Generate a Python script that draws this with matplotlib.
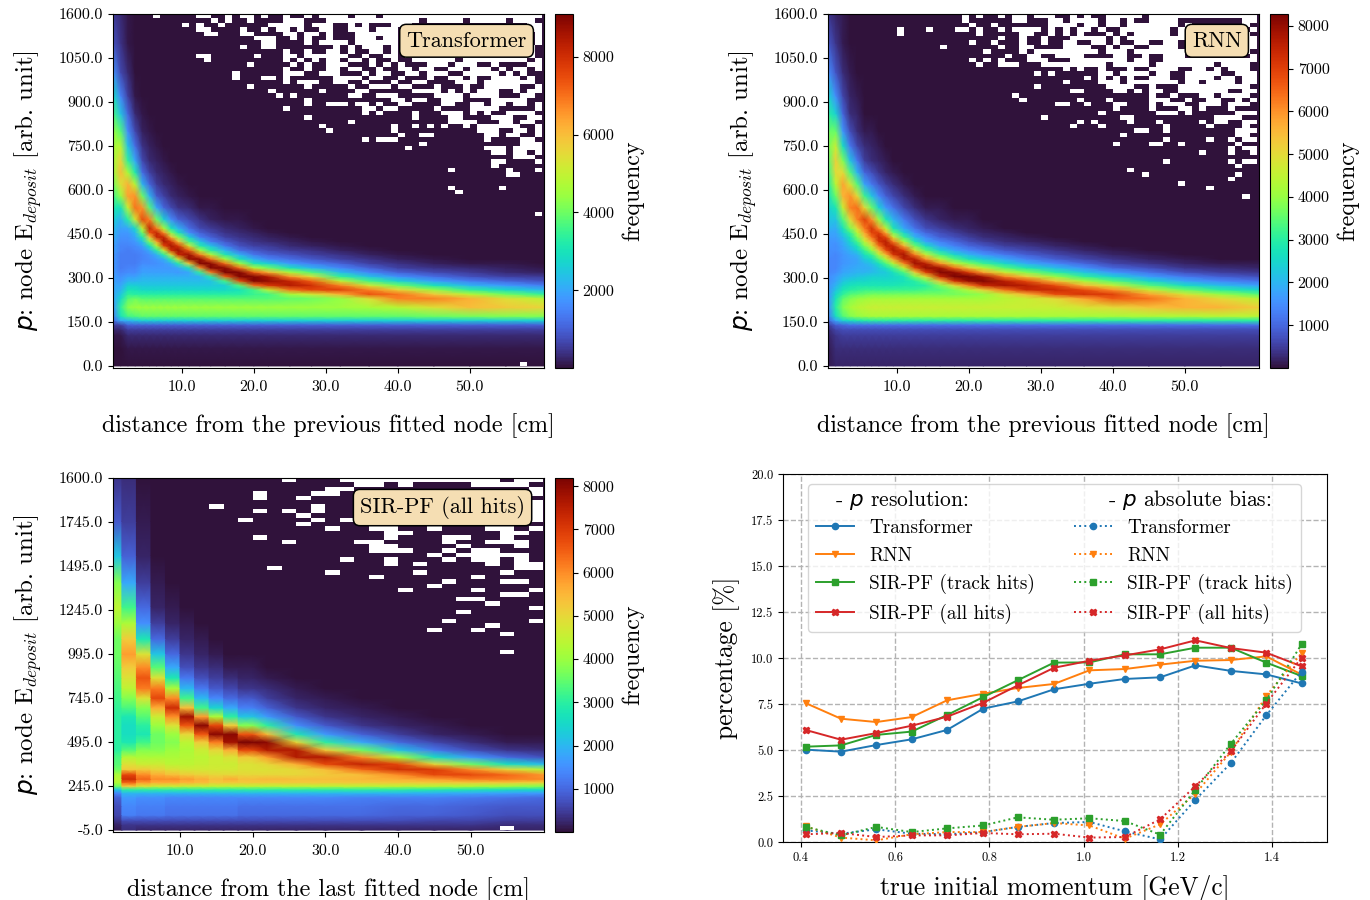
import numpy as np
import matplotlib
matplotlib.use("Agg")
import matplotlib.pyplot as plt
from matplotlib.lines import Line2D
from matplotlib.colors import Normalize, ListedColormap
from matplotlib.cm import ScalarMappable

plt.rcParams['font.family'] = ['cmr10', 'DejaVu Sans']
plt.rcParams['mathtext.fontset'] = 'custom'
plt.rcParams['mathtext.rm'] = 'cmr10'
plt.rcParams['mathtext.it'] = 'cmmi10'
plt.rcParams['mathtext.sf'] = 'DejaVu Sans:italic'
plt.rcParams['axes.unicode_minus'] = False

# ---- histogram values, in hundreds of counts. each list is one x column, bottom to top.
# short columns are dark (zero) above their last value
edep_y = [0, 60, 105, 125, 140, 155, 170, 200, 230, 245, 260, 275, 290, 305, 320, 335, 350, 365, 380, 395, 410, 425,
          440, 455, 470, 500, 540, 580, 620, 660, 700, 750, 800, 860, 920, 1000, 1100, 1200]
edep_x = [0.5, 1.5, 2.5, 3.5, 4.5, 5.5, 6.5, 7.5, 8.5, 9.5, 11, 12.5, 14, 16, 18, 20, 22, 25, 28, 32, 36, 40, 45, 50, 55, 60.5]

transformer_hist = [
    [0, 0, 1, 3, 6, 12, 15, 18, 20, 20, 20, 20, 19, 19, 18, 18, 18, 18, 18, 19, 19, 20, 21, 22, 23, 26, 31, 36, 41, 45, 46, 46, 44, 36, 28, 17, 8, 5],
    [0, 0, 1, 3, 6, 20, 30, 34, 28, 25, 22, 20, 18, 17, 15, 14, 14, 14, 14, 15, 15, 16, 17, 18, 19, 22, 30, 44, 54, 60, 56, 48, 38, 24, 15, 7, 4, 3],
    [0, 1, 3, 6, 10, 22, 36, 43, 38, 34, 30, 26, 22, 19, 16, 15, 14, 14, 14, 14, 15, 16, 17, 18, 20, 33, 50, 64, 62, 46, 34, 24, 16, 11, 6, 3, 1, 1],
    [0, 1, 3, 6, 10, 24, 37, 45, 40, 33, 30, 26, 22, 19, 16, 15, 14, 14, 14, 15, 16, 18, 20, 23, 28, 52, 70, 66, 48, 32, 20, 12, 7, 3, 1],
    [0, 1, 3, 6, 10, 26, 39, 45, 38, 33, 28, 25, 23, 21, 19, 18, 16, 15, 15, 16, 19, 24, 32, 40, 50, 75, 66, 40, 22, 12, 7, 4, 2, 1],
    [0, 1, 3, 6, 10, 26, 39, 45, 38, 33, 28, 25, 23, 21, 19, 18, 16, 16, 17, 21, 30, 42, 58, 74, 82, 68, 38, 22, 11, 6, 3, 2, 1],
    [0, 1, 3, 6, 10, 26, 39, 45, 38, 33, 28, 25, 23, 21, 19, 18, 17, 18, 22, 34, 48, 64, 82, 82, 68, 40, 20, 9, 5, 3, 2, 1],
    [0, 1, 3, 6, 10, 26, 39, 45, 38, 33, 28, 25, 23, 21, 19, 18, 18, 21, 34, 52, 76, 86, 82, 66, 46, 26, 11, 6, 3, 2, 1],
    [0, 1, 3, 6, 10, 26, 39, 45, 38, 33, 28, 25, 23, 21, 19, 18, 21, 34, 54, 80, 86, 78, 60, 42, 30, 16, 7, 3, 2, 1],
    [0, 1, 3, 6, 10, 26, 39, 45, 38, 33, 28, 25, 23, 21, 18, 20, 32, 54, 82, 87, 78, 60, 42, 30, 22, 10, 4, 2, 1],
    [0, 1, 3, 6, 10, 26, 39, 45, 38, 33, 28, 25, 23, 21, 20, 30, 58, 88, 87, 72, 52, 36, 26, 16, 12, 7, 3, 1],
    [0, 1, 3, 6, 10, 26, 39, 45, 38, 33, 28, 25, 23, 22, 34, 66, 90, 88, 68, 46, 32, 24, 14, 10, 7, 4, 1],
    [0, 1, 3, 6, 10, 26, 39, 45, 38, 33, 28, 25, 24, 33, 68, 90, 89, 70, 48, 33, 24, 14, 10, 7, 5, 2, 1],
    [0, 1, 3, 6, 10, 26, 39, 45, 38, 33, 28, 26, 36, 72, 91, 89, 70, 46, 31, 22, 13, 9, 6, 4, 3, 1],
    [0, 1, 3, 6, 10, 26, 39, 45, 38, 33, 30, 38, 74, 90, 90, 70, 46, 30, 21, 12, 8, 6, 4, 3, 2, 1],
    [0, 1, 3, 6, 10, 26, 39, 45, 38, 35, 36, 70, 90, 90, 72, 48, 31, 21, 13, 9, 6, 4, 3, 2, 1],
    [0, 1, 3, 6, 10, 26, 39, 45, 38, 36, 50, 78, 88, 84, 62, 40, 26, 15, 10, 7, 5, 3, 2, 1],
    [0, 1, 3, 6, 10, 26, 39, 45, 39, 46, 70, 84, 82, 66, 46, 30, 18, 12, 8, 5, 3, 2, 1],
    [0, 1, 3, 6, 10, 26, 39, 45, 40, 52, 76, 80, 72, 54, 37, 22, 14, 9, 6, 4, 2, 1],
    [0, 1, 3, 6, 10, 26, 39, 45, 44, 62, 77, 68, 50, 34, 23, 15, 10, 6, 4, 2, 1],
    [0, 1, 3, 6, 10, 26, 39, 46, 54, 74, 68, 52, 36, 24, 15, 10, 6, 4, 2, 1],
    [0, 1, 3, 6, 10, 26, 39, 48, 68, 70, 56, 40, 27, 17, 10, 6, 4, 2, 1],
    [0, 1, 3, 6, 10, 26, 40, 54, 68, 58, 44, 30, 19, 12, 7, 4, 2, 1],
    [0, 1, 3, 6, 10, 26, 41, 60, 62, 48, 34, 22, 14, 8, 5, 3, 1],
    [0, 1, 3, 6, 10, 26, 42, 58, 54, 40, 28, 18, 11, 6, 3, 2, 1],
    [0, 1, 3, 6, 10, 26, 42, 56, 48, 34, 22, 14, 8, 5, 2, 1],
]

rnn_hist = [
    [1, 1, 2, 3, 5, 10, 13, 15, 16, 16, 16, 16, 15, 15, 14, 14, 14, 14, 15, 15, 16, 16, 17, 18, 20, 22, 24, 27, 30, 33, 35, 37, 36, 30, 24, 15, 8, 4],
    [2, 3, 4, 6, 9, 18, 26, 30, 27, 25, 22, 20, 18, 17, 15, 14, 14, 14, 14, 15, 15, 16, 17, 18, 19, 22, 28, 36, 44, 50, 52, 46, 36, 24, 15, 8, 4, 2],
    [2, 3, 5, 7, 10, 24, 34, 38, 35, 31, 28, 25, 22, 20, 18, 17, 16, 16, 16, 17, 18, 19, 21, 24, 27, 34, 46, 56, 58, 50, 38, 26, 16, 10, 6, 3, 1, 1],
    [2, 3, 5, 7, 11, 26, 38, 42, 38, 34, 30, 27, 24, 21, 19, 18, 17, 17, 18, 20, 22, 25, 28, 32, 38, 50, 62, 60, 48, 34, 22, 12, 7, 3, 2, 1],
    [2, 3, 5, 7, 11, 28, 40, 44, 40, 35, 31, 28, 25, 22, 20, 19, 18, 18, 20, 24, 28, 33, 38, 44, 50, 62, 64, 50, 34, 20, 12, 6, 3, 2, 1],
    [2, 3, 5, 7, 11, 29, 41, 45, 41, 36, 32, 28, 25, 23, 20, 19, 20, 23, 27, 32, 38, 45, 52, 58, 63, 70, 50, 32, 18, 10, 5, 3, 1],
    [2, 3, 5, 7, 11, 30, 42, 46, 42, 37, 32, 28, 26, 24, 21, 20, 22, 26, 32, 40, 48, 56, 64, 70, 72, 60, 36, 22, 12, 7, 3, 2, 1],
    [2, 3, 5, 7, 11, 30, 42, 46, 42, 37, 32, 28, 26, 24, 22, 23, 27, 34, 44, 54, 64, 72, 74, 70, 60, 40, 24, 14, 8, 4, 2, 1],
    [2, 3, 5, 7, 11, 30, 42, 46, 42, 37, 32, 28, 26, 24, 23, 27, 34, 44, 56, 68, 75, 76, 68, 56, 44, 28, 16, 9, 5, 2, 1],
    [2, 3, 5, 7, 11, 30, 42, 46, 42, 37, 32, 28, 26, 25, 27, 33, 44, 58, 72, 77, 74, 62, 48, 36, 28, 20, 11, 6, 3, 1],
    [2, 3, 5, 7, 11, 30, 42, 46, 42, 37, 32, 29, 27, 28, 34, 46, 62, 76, 78, 70, 56, 42, 32, 24, 18, 12, 6, 3, 1],
    [2, 3, 5, 7, 11, 30, 42, 46, 42, 37, 32, 29, 30, 38, 52, 70, 79, 76, 62, 48, 36, 28, 20, 15, 11, 7, 3, 1],
    [2, 3, 5, 7, 11, 30, 42, 46, 42, 37, 33, 30, 36, 50, 70, 80, 76, 60, 46, 34, 26, 18, 14, 10, 7, 4, 1],
    [2, 3, 5, 7, 11, 30, 42, 46, 42, 37, 34, 38, 54, 74, 82, 78, 60, 44, 33, 24, 17, 13, 9, 7, 5, 2, 1],
    [2, 3, 5, 7, 11, 30, 42, 46, 42, 37, 38, 50, 72, 83, 80, 64, 46, 34, 25, 18, 13, 10, 7, 5, 3, 1],
    [2, 3, 5, 7, 11, 30, 42, 46, 42, 38, 44, 62, 80, 83, 70, 52, 38, 27, 20, 14, 10, 7, 5, 3, 2, 1],
    [2, 3, 5, 7, 11, 30, 42, 46, 42, 40, 52, 74, 82, 78, 58, 44, 32, 23, 16, 11, 8, 5, 3, 2, 1],
    [2, 3, 5, 7, 11, 30, 42, 46, 44, 48, 64, 78, 76, 62, 46, 34, 25, 18, 12, 8, 5, 3, 2, 1],
    [2, 3, 5, 7, 11, 30, 42, 46, 46, 56, 74, 76, 68, 52, 38, 28, 19, 13, 9, 6, 4, 2, 1],
    [2, 3, 5, 7, 11, 30, 42, 46, 50, 68, 74, 68, 54, 40, 30, 21, 14, 9, 6, 4, 2, 1],
    [2, 3, 5, 7, 11, 30, 42, 48, 58, 72, 68, 55, 42, 31, 22, 15, 10, 6, 4, 2, 1],
    [2, 3, 5, 7, 11, 30, 42, 50, 66, 70, 60, 46, 34, 24, 16, 10, 6, 4, 2, 1],
    [2, 3, 5, 7, 11, 30, 43, 54, 64, 58, 46, 34, 25, 17, 11, 7, 4, 2, 1],
    [2, 3, 5, 7, 11, 30, 43, 56, 56, 48, 36, 26, 18, 12, 7, 4, 2, 1],
    [2, 3, 5, 7, 11, 30, 44, 56, 50, 40, 30, 21, 14, 9, 5, 3, 1],
    [2, 3, 5, 7, 11, 30, 44, 52, 44, 34, 25, 17, 11, 7, 4, 2, 1],
]

sir_y = [-5, 25, 50, 80, 130, 180, 205, 225, 245, 265, 285, 310, 340, 370, 410, 450, 495, 540, 590, 640,
         690, 745, 800, 860, 920, 995, 1080, 1170, 1260, 1400, 1550, 1745, 1995]
sir_x_left = [0.5, 2, 4, 6, 8, 10, 12, 14, 16, 18, 22, 26, 30, 35, 40, 45, 50, 55, 60.5]
sir_x_right = [2, 4, 6, 8, 10, 12, 14, 16, 18, 20, 22, 26, 30, 35, 40, 45, 50, 55, 60.5]

sir_hist = [
    [1, 2, 4, 6, 7, 9, 14, 22, 36, 42, 44, 42, 36, 34, 33, 30, 30, 30, 30, 30, 31, 32, 33, 34, 35, 36, 36, 40, 44, 38, 22, 8, 4],
    [3, 4, 7, 13, 14, 16, 20, 30, 52, 64, 72, 68, 52, 48, 43, 34, 28, 26, 26, 28, 33, 38, 44, 48, 52, 58, 52, 42, 32, 18, 9, 5, 3],
    [2, 4, 7, 12, 13, 15, 20, 30, 48, 58, 64, 60, 52, 46, 42, 38, 32, 28, 30, 34, 38, 48, 62, 66, 60, 48, 28, 15, 10, 5, 2, 1],
    [2, 4, 7, 12, 13, 15, 20, 30, 46, 56, 60, 56, 50, 46, 42, 38, 36, 36, 40, 46, 56, 68, 62, 48, 34, 22, 10, 5, 2, 1],
    [2, 4, 7, 11, 12, 14, 20, 30, 46, 56, 60, 54, 48, 44, 42, 40, 38, 40, 48, 60, 72, 60, 42, 28, 18, 10, 5, 2, 1],
    [2, 4, 7, 11, 12, 14, 20, 30, 45, 55, 58, 52, 47, 44, 43, 42, 44, 50, 66, 78, 54, 32, 20, 12, 7, 4, 2, 1],
    [2, 4, 7, 11, 12, 14, 20, 30, 45, 54, 56, 51, 47, 45, 44, 46, 52, 66, 80, 58, 32, 20, 12, 7, 4, 2, 1],
    [2, 4, 7, 11, 12, 14, 20, 30, 44, 52, 54, 50, 47, 46, 46, 50, 62, 80, 68, 42, 24, 14, 8, 5, 3, 1],
    [2, 4, 7, 11, 12, 14, 20, 30, 44, 52, 56, 50, 47, 46, 48, 56, 78, 80, 52, 30, 18, 10, 6, 3, 1],
    [2, 4, 7, 10, 11, 14, 20, 30, 44, 52, 54, 50, 48, 48, 52, 68, 82, 66, 38, 22, 13, 8, 4, 2, 1],
    [2, 4, 7, 10, 11, 14, 20, 30, 44, 52, 55, 50, 48, 50, 58, 76, 80, 54, 30, 16, 9, 5, 3, 1],
    [2, 4, 7, 10, 11, 14, 20, 30, 44, 52, 54, 50, 50, 56, 76, 76, 50, 28, 15, 8, 4, 2, 1],
    [2, 4, 7, 10, 11, 14, 20, 30, 44, 52, 54, 52, 54, 68, 76, 52, 30, 16, 8, 4, 2, 1],
    [2, 4, 7, 10, 11, 13, 20, 30, 44, 52, 55, 54, 64, 74, 60, 36, 18, 9, 4, 2, 1],
    [2, 4, 7, 9, 10, 13, 20, 30, 44, 52, 56, 60, 72, 68, 42, 22, 10, 5, 2, 1],
    [2, 4, 6, 9, 10, 13, 19, 29, 43, 52, 58, 68, 70, 50, 26, 12, 6, 2, 1],
    [2, 4, 6, 8, 9, 12, 18, 28, 42, 52, 62, 68, 60, 36, 16, 7, 3, 1],
    [2, 3, 5, 7, 8, 11, 17, 26, 40, 52, 62, 64, 50, 26, 10, 4, 1],
    [2, 3, 5, 7, 8, 10, 16, 25, 38, 50, 60, 58, 42, 20, 7, 3, 1],
]

# ---- empty (white) cells: row counted from the top -> bin numbers
transformer_empty = {
    0: [6, 12, 13, 16, 18, 19, 21, 24, 27, 29, 30, 31, 32, 34, 35, 36] + list(range(38, 60)),
    1: [14, 16, 19, 24, 25, 26, 30, 31, 32, 33, 34, 35, 36, 37, 38, 39, 40, 41, 42, 44, 45, 46, 47, 48, 50, 51, 52, 53, 54, 56, 57, 58],
    2: [10, 12, 15, 22, 23, 24, 25, 26, 28, 29, 30, 33, 35, 39, 40, 41, 58, 59],
    3: [12, 13, 18, 21, 23, 24, 26, 29, 30, 33, 34, 35, 37, 38, 39, 58, 59],
    4: [13, 14, 18, 19, 24, 25, 27, 28, 30, 34, 35, 36, 37, 38, 39, 59],
    5: [20, 21, 22, 25, 27, 30, 34, 35, 36, 38, 39, 59],
    6: [21, 22, 27, 29, 30, 31, 32, 34, 35, 36, 37, 38, 39, 59],
    7: [18, 21, 22, 31, 33, 35, 36, 37, 39, 58],
    8: [24, 27, 30, 31, 33, 36, 37, 39, 58],
    9: [12, 13, 20, 24, 25, 27, 28, 29, 30, 31, 32, 35, 38, 39, 41] + list(range(42, 59)),
    10: [13, 24, 26, 28, 30, 31, 33, 34, 36, 39, 42, 43, 44, 45, 46, 47, 49, 50, 51, 52, 53, 54, 55, 56, 57, 59],
    11: [19, 25, 27, 30, 31, 32, 36, 38, 40, 44, 45, 46, 48, 49, 50, 53, 58, 59],
    12: [24, 27, 30, 31, 33, 34, 37, 40, 41, 43, 44, 47, 48, 50, 51, 52, 54, 56, 57, 59],
    13: [17, 24, 25, 26, 29, 30, 31, 35, 37, 38, 41, 42, 44, 45, 46, 49, 50, 51, 52, 53, 55, 57],
    14: [17, 21, 22, 24, 31, 32, 33, 34, 36, 37, 40, 44, 47, 48, 50, 53, 54, 55, 56, 58],
    15: [24, 26, 27, 28, 31, 32, 35, 39, 42, 43, 48, 49, 50, 52, 53, 54, 55, 56, 57, 58],
    16: [19, 27, 33, 36, 37, 38, 40, 41, 45, 49, 52, 53, 54, 55, 56, 59],
    17: [22, 29, 34, 35, 42, 43, 44, 45, 47, 49, 51, 52, 53, 56, 58, 59],
    18: [23, 25, 33, 34, 37, 38, 39, 45, 46, 47, 48, 50, 51, 52, 53, 57, 58],
    19: [27, 39, 40, 42, 43, 46, 47, 48, 53, 54, 55, 56, 57],
    20: [27, 30, 31, 32, 34, 35, 37, 40, 41, 46, 47, 50, 51, 53, 54, 56, 57, 59],
    21: [24, 35, 36, 38, 39, 45, 50, 51, 52, 53, 59],
    22: [35, 37, 42, 46, 47, 48, 50, 52, 55, 56, 57, 58],
    23: [27, 42, 47, 48, 53, 54, 55, 58, 59],
    24: [33, 47, 48, 49, 50, 54, 55, 57, 58],
    25: [29, 39, 42, 44, 46, 49, 51, 52, 53, 54, 55, 56, 59],
    26: [30, 39, 51, 52, 53, 56, 57, 59],
    27: [40, 43, 44, 52, 53, 55, 56, 59],
    28: [35, 37, 38, 39, 52, 57, 58],
    29: [43, 57, 58, 59],
    30: [41, 52, 53, 54, 56, 57, 58, 59],
    31: [53, 54, 56, 57, 59],
    32: [56, 57, 58],
    33: [53, 54, 59],
    34: [53],
    35: [47, 55, 59],
    36: [55, 56],
    39: [47, 54],
    40: [48],
    45: [59],
    79: [57],
}

rnn_empty = {
    0: [19, 21, 24, 26, 27, 29, 30, 31, 34, 36, 39, 40, 41, 42, 43] + list(range(45, 60)),
    1: [19, 26, 27, 31, 32, 34, 35, 36, 37, 39, 40, 42, 45, 46, 47, 48, 58, 59],
    2: [20, 23, 31, 32, 33, 34, 36, 37, 39, 40, 42, 43, 44, 45, 46, 47, 48, 50, 58],
    3: [10, 14, 18, 19, 21, 24, 26, 27, 28, 29, 31, 33, 35, 36, 38, 41, 42, 43, 44, 45, 46, 47, 49, 59],
    4: [10, 21, 27, 28, 31, 33, 35, 39, 41, 43, 44, 45, 46, 47, 49, 58],
    5: [24, 27, 30, 34, 35, 36, 37, 38, 40, 42, 43, 44, 45, 46, 47, 48, 49, 58, 59],
    6: [20, 23, 27, 30, 33, 34, 37, 38, 40, 43, 44, 47, 48, 58, 59],
    7: [16, 24, 27, 28, 33, 34, 35, 36, 39, 41, 42, 45, 46, 47, 48, 58, 59],
    8: [22, 27, 29, 30, 31, 32, 33, 34, 35, 36, 37, 39, 40, 41, 43, 44, 45, 46, 47, 48, 49, 58],
    9: [25, 28, 29, 32, 33, 34, 35, 40, 41, 44, 47, 48, 49, 59],
    10: [20, 22, 24, 28, 29, 30, 34, 35, 36, 37, 38, 39, 40, 41, 43, 44, 47] + list(range(48, 60)),
    11: [21, 24, 25, 26, 30, 31, 32, 33, 34, 35, 36, 37, 38, 40, 41, 42, 43, 44, 46, 47, 48, 49, 50, 51, 52, 53, 55, 56, 57, 58],
    12: [33, 35, 38, 42, 45, 46, 47, 48, 51, 52, 54, 56, 57, 58],
    13: [29, 31, 38, 39, 41, 42, 43, 44, 46, 47, 50, 51, 52, 53, 54, 57, 58, 59],
    14: [36, 38, 40, 42, 45, 46, 47, 50, 51, 52, 53, 55, 56, 58, 59],
    15: [33, 38, 39, 40, 42, 43, 44, 45, 46, 47, 48, 50, 51, 53, 54, 55, 56, 58, 59],
    16: [29, 39, 40, 41, 42, 45, 49, 50, 51, 52, 53, 54, 55, 56, 57, 58],
    17: [34, 35, 40, 41, 43, 45, 46, 49, 50, 51, 52, 53, 54, 55, 58, 59],
    18: [26, 45, 48, 52, 53, 55, 56, 57, 58],
    19: [27, 35, 39, 45, 46, 47, 50, 53, 54, 57, 59],
    20: [32, 33, 36, 40, 41, 45, 47, 48, 49, 52, 53, 54, 56, 57, 58],
    21: [40, 45, 49, 50, 52, 56],
    22: [38, 46, 47, 48, 50, 57, 58, 59],
    23: [30, 41, 42, 54, 55, 56, 57],
    24: [35, 37, 42, 46, 52, 54, 55, 58, 59],
    25: [34, 38, 47, 53, 58],
    26: [43, 44, 47, 57, 58, 59],
    27: [41, 57, 58],
    28: [47, 53, 56, 58, 59],
    29: [40, 45, 46, 49, 57],
    30: [56, 58, 59],
    31: [52, 56, 59],
    33: [47, 56, 58, 59],
    34: [57],
    35: [42],
    36: [44, 57],
    37: [56],
    38: [49],
    39: [53],
    41: [58],
}

sir_empty = {
    0: [12, 16, 17, 18, 19, 20, 21, 22, 23, 24, 25, 26, 28, 29],
    1: [17, 18, 20, 25, 26, 27, 28],
    2: [15, 16, 29],
    3: [10, 14, 15, 29],
    4: [10, 13],
    5: [29],
    6: [7, 14, 29],
    7: [10, 12, 14, 29],
    8: [13, 29],
    9: [9, 14, 16, 29],
    10: [13],
    11: [15, 18, 19, 22, 26, 27, 29],
    12: [19, 20, 27, 28],
    13: [10, 19, 23, 24, 27],
    14: [12, 17, 18, 23, 26, 27, 28],
    15: [18, 19, 24, 28],
    16: [18, 19, 20, 23, 25, 26],
    17: [22, 24, 25, 26, 27, 28],
    18: [16, 19, 23, 25, 26, 28],
    19: [19, 21, 26, 28, 29],
    20: [11, 28, 29],
    21: [15, 21, 27],
    22: [18, 25],
    23: [23, 27, 28],
    24: [22],
    25: [20, 25, 29],
    26: [27, 28],
    27: [24, 25],
    28: [26],
    29: [29],
    30: [24],
    32: [23, 29],
    33: [26],
    34: [22, 25],
    35: [27],
    39: [27],
    79: [27],
}

# ---- momentum scan
p_true = [0.41, 0.485, 0.56, 0.635, 0.71, 0.787, 0.86, 0.937, 1.012, 1.087, 1.162, 1.237, 1.312, 1.387, 1.462]

res_transformer = [5.02, 4.91, 5.27, 5.58, 6.09, 7.25, 7.64, 8.30, 8.60, 8.86, 8.95, 9.60, 9.30, 9.11, 8.62]
res_rnn = [7.55, 6.70, 6.52, 6.79, 7.70, 8.06, 8.37, 8.59, 9.33, 9.40, 9.64, 9.85, 9.89, 10.09, 9.10]
res_sir_track = [5.18, 5.25, 5.82, 6.00, 6.90, 7.88, 8.79, 9.75, 9.76, 10.20, 10.20, 10.56, 10.56, 9.75, 9.02]
res_sir_all = [6.09, 5.56, 5.92, 6.32, 6.81, 7.57, 8.51, 9.47, 9.85, 10.14, 10.47, 10.96, 10.54, 10.29, 9.55]

bias_transformer = [0.63, 0.45, 0.69, 0.45, 0.42, 0.54, 0.82, 1.03, 1.09, 0.58, 0.14, 2.30, 4.29, 6.88, 9.26]
bias_rnn = [0.85, 0.24, 0.09, 0.42, 0.54, 0.54, 0.82, 1.03, 0.90, 0.18, 0.96, 2.63, 4.89, 7.93, 10.27]
bias_sir_track = [0.82, 0.36, 0.82, 0.54, 0.74, 0.90, 1.34, 1.21, 1.29, 1.14, 0.40, 2.84, 5.34, 7.70, 10.74]
bias_sir_all = [0.42, 0.49, 0.27, 0.36, 0.36, 0.49, 0.42, 0.45, 0.24, 0.27, 1.23, 3.04, 4.93, 7.52, 10.02]

method_names = ["Transformer", "RNN", "SIR-PF (track hits)", "SIR-PF (all hits)"]
method_colors = ["tab:blue", "tab:orange", "tab:green", "tab:red"]
method_markers = ["o", "v", "s", "X"]

edep_ticks = ["0.0", "150.0", "300.0", "450.0", "600.0", "750.0", "900.0", "1050.0", "1600.0"]
sir_ticks = ["-5.0", "245.0", "495.0", "745.0", "995.0", "1245.0", "1495.0", "1745.0", "1600.0"]
dist_ticks = ["10.0", "20.0", "30.0", "40.0", "50.0"]

W, H = 1370.0, 900.0
YLABEL = r"$\mathsf{p}$: node E$_{deposit}$ [arb. unit]"


def px_axes(fig, left, top, right, bottom):
    return fig.add_axes([left / W, 1 - bottom / H, (right - left) / W, (bottom - top) / H])


def fill_columns(cols, n):
    return np.array([c + [0] * (n - len(c)) for c in cols], dtype=float) * 100.0


def draw_hist(fig, box, cbox, xs, ys, grid, vmax, empty, ncols, xbin, ybin, ytop, ylim, xlim, yticks, ylabels,
              cticks, xlabel, tag, tag_xy):
    ax = px_axes(fig, *box)
    norm = Normalize(0, vmax)
    ax.pcolormesh(xs, ys, grid.T, cmap="turbo", norm=norm, shading="gouraud", rasterized=True)

    # cells with no entries are white
    mask = np.zeros((80, ncols))
    for row, bins in empty.items():
        mask[row, bins] = 1
    xe = np.arange(ncols + 1) * xbin
    ye = ytop - np.arange(81) * ybin
    white = ListedColormap(["white"])
    ax.pcolormesh(xe, ye, np.ma.masked_equal(mask, 0), cmap=white, shading="flat", linewidth=0)

    ax.set_xlim(*xlim)
    ax.set_ylim(*ylim)
    ax.set_xticks([10, 20, 30, 40, 50])
    ax.set_xticklabels(dist_ticks, fontsize=11.5)
    ax.set_yticks(yticks)
    ax.set_yticklabels(ylabels, fontsize=11.5)
    ax.tick_params(axis="x", pad=5.5)
    ax.set_xlabel(xlabel, fontsize=17.3, labelpad=14)
    ax.set_ylabel(YLABEL, fontsize=17.9, labelpad=11)
    ax.text(tag_xy[0], tag_xy[1], tag, transform=ax.transAxes, fontsize=16, ha="right", va="top",
            bbox=dict(boxstyle="round,pad=0.3", facecolor="wheat", edgecolor="black", linewidth=1.1))

    cax = px_axes(fig, *cbox)
    cb = fig.colorbar(ScalarMappable(norm=norm, cmap="turbo"), cax=cax)
    cb.set_ticks(cticks)
    cb.set_ticklabels([str(t) for t in cticks], fontsize=11.5)
    cb.set_label("frequency", fontsize=17.3, labelpad=5)
    return ax


fig = plt.figure(figsize=(13.7, 9), dpi=100)

draw_hist(fig, (113, 14, 544, 368), (555, 14, 573, 368), edep_x, edep_y,
          fill_columns(transformer_hist, len(edep_y)), 9100, transformer_empty, 60, 1.0, 15.0, 1200.0,
          (-7, 1200), (0.42, 60.3), np.arange(0, 1201, 150), edep_ticks, [2000, 4000, 6000, 8000],
          "distance from the previous fitted node [cm]", "Transformer", (0.96, 0.952))

draw_hist(fig, (828, 14, 1259, 368), (1270, 14, 1288, 368), edep_x, edep_y,
          fill_columns(rnn_hist, len(edep_y)), 8280, rnn_empty, 60, 1.0, 15.0, 1200.0,
          (-7, 1200), (0.42, 60.3), np.arange(0, 1201, 150), edep_ticks,
          [1000, 2000, 3000, 4000, 5000, 6000, 7000, 8000],
          "distance from the previous fitted node [cm]", "RNN", (0.96, 0.952))

sir_grid = fill_columns(sir_hist, len(sir_y))
sir_xs = np.column_stack([sir_x_left, sir_x_right]).ravel()
draw_hist(fig, (113, 478, 544, 832), (555, 478, 573, 832), sir_xs, sir_y,
          np.repeat(sir_grid, 2, axis=0), 8190, sir_empty, 30, 2.0, 25.0, 1995.0,
          (-16, 1995), (0.78, 60.07), np.arange(-5, 2000, 250), sir_ticks,
          [1000, 2000, 3000, 4000, 5000, 6000, 7000, 8000],
          "distance from the last fitted node [cm]", "SIR-PF (all hits)", (0.956, 0.949))

# momentum panel
ax = px_axes(fig, 783, 474, 1327, 842)
res_series = [res_transformer, res_rnn, res_sir_track, res_sir_all]
bias_series = [bias_transformer, bias_rnn, bias_sir_track, bias_sir_all]
for vals, col, mk in zip(res_series, method_colors, method_markers):
    ax.plot(p_true, vals, color=col, marker=mk, markersize=4.5, linewidth=1.4, zorder=3)
for vals, col, mk in zip(bias_series, method_colors, method_markers):
    ax.plot(p_true, vals, color=col, marker=mk, markersize=4.5, linewidth=1.4, linestyle=":", zorder=3)

ax.set_xlim(0.362, 1.516)
ax.set_ylim(0, 20)
ax.set_xticks([0.4, 0.6, 0.8, 1.0, 1.2, 1.4])
ax.set_xticklabels(["0.4", "0.6", "0.8", "1.0", "1.2", "1.4"], fontsize=9)
ax.set_yticks(np.arange(0, 20.1, 2.5))
ax.set_yticklabels(["%.1f" % t for t in np.arange(0, 20.1, 2.5)], fontsize=9)
ax.grid(True, linestyle="--", color="0.7", linewidth=1.0)
ax.set_axisbelow(True)
ax.set_xlabel("true initial momentum [GeV/c]", fontsize=18.3, labelpad=8)
ax.set_ylabel("percentage [%]", fontsize=18.3, labelpad=8)

handles = [Line2D([], [], color="none")]
labels = [" "]
for name, col, mk in zip(method_names, method_colors, method_markers):
    handles.append(Line2D([], [], color=col, marker=mk, markersize=4.5, linewidth=1.4))
    labels.append(name)
handles.append(Line2D([], [], color="none"))
labels.append(" ")
for name, col, mk in zip(method_names, method_colors, method_markers):
    handles.append(Line2D([], [], color=col, marker=mk, markersize=4.5, linewidth=1.4, linestyle=":"))
    labels.append(name)
ax.legend(handles, labels, ncol=2, loc="upper left", bbox_to_anchor=(0.046, 0.973), borderaxespad=0,
          fontsize=13.8, columnspacing=2.0, labelspacing=0.5, handlelength=2.0, handletextpad=0.8)
fig.text(835 / W, 1 - 500 / H, r"- $\mathsf{p}$ resolution:", fontsize=15.5, va="center", zorder=10)
fig.text(1108 / W, 1 - 500 / H, r"- $\mathsf{p}$ absolute bias:", fontsize=15.5, va="center", zorder=10)

fig.savefig("out.png", dpi=100)
